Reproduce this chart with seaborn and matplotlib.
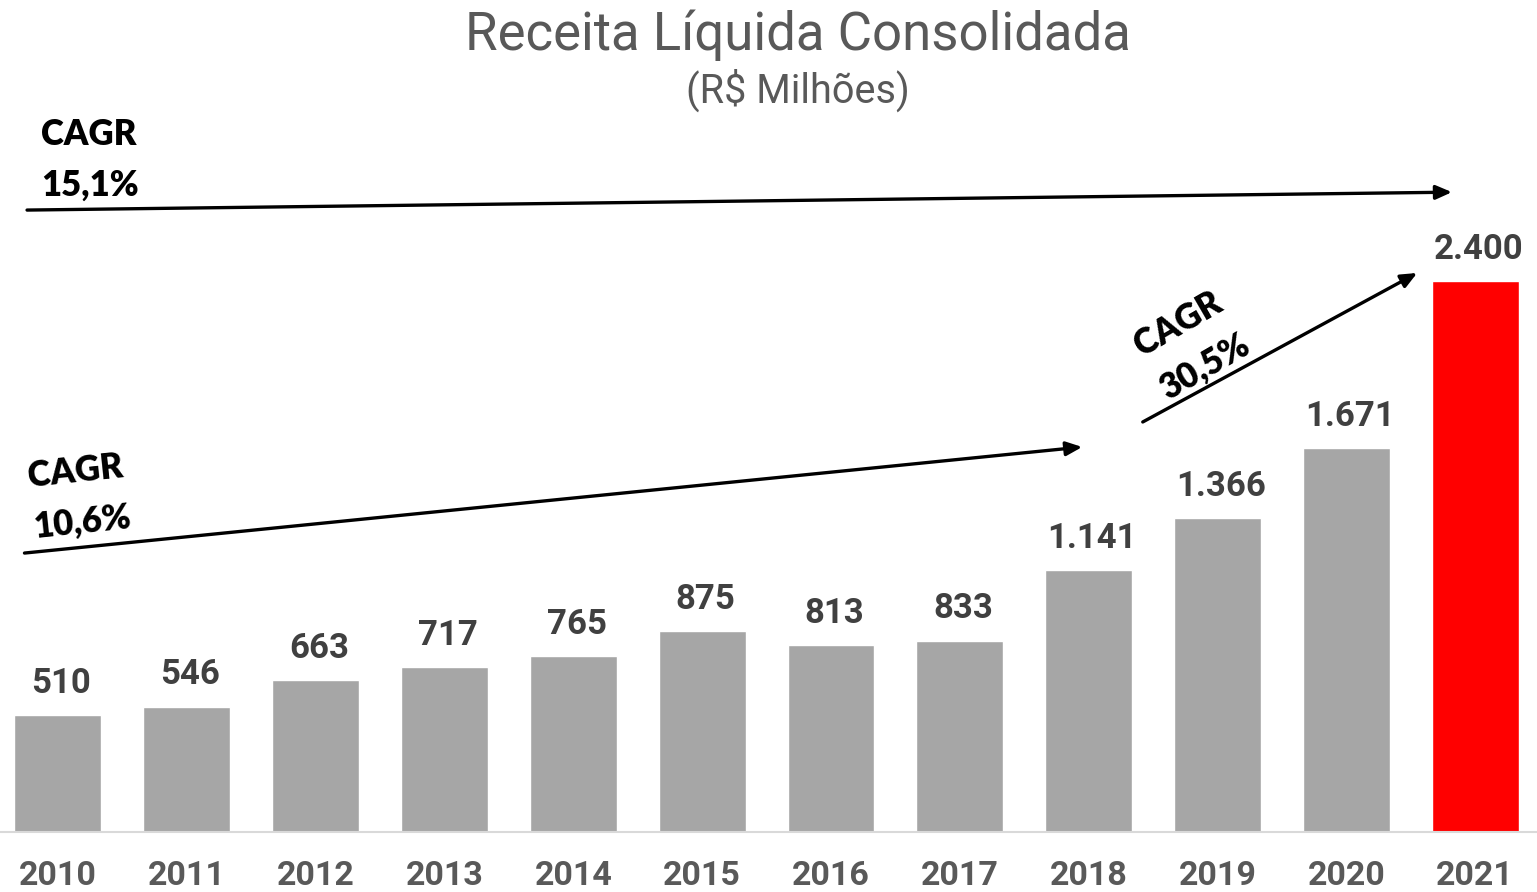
import matplotlib
matplotlib.use("Agg")
import matplotlib.pyplot as plt
import seaborn as sns
import pandas as pd

# Consolidated net revenue, R$ millions
years = ["2010", "2011", "2012", "2013", "2014", "2015",
         "2016", "2017", "2018", "2019", "2020", "2021"]
revenue = [510, 546, 663, 717, 765, 875, 813, 833, 1141, 1366, 1671, 2400]
value_labels = ["510", "546", "663", "717", "765", "875",
                "813", "833", "1.141", "1.366", "1.671", "2.400"]
highlight_year = "2021"

cagr_labels = ["CAGR\n15,1%", "CAGR\n10,6%", "CAGR\n30,5%"]

sns.set_theme(style="white")
plt.rcParams["font.family"] = ["Roboto", "DejaVu Sans"]

df = pd.DataFrame({"year": years, "revenue": revenue})
palette = {y: ("#FF0000" if y == highlight_year else "#A6A6A6") for y in years}

fig = plt.figure(figsize=(15.37, 8.92), dpi=100)
ax = fig.add_axes([0.0, 60 / 892, 1.0, 832 / 892])

sns.barplot(data=df, x="year", y="revenue", hue="year", palette=palette,
            width=0.675, legend=False, ax=ax, saturation=1)

ax.set_xlim(-0.45, 11.48)
ax.set_ylim(0, 3624)
ax.set_xlabel("")
ax.set_ylabel("")
ax.set_yticks([])
for side in ("left", "right", "top"):
    ax.spines[side].set_visible(False)
ax.spines["bottom"].set_color("#D9D9D9")
ax.spines["bottom"].set_linewidth(1.5)
ax.tick_params(axis="x", length=0, pad=20, labelsize=24.5, labelcolor="#595959")
for lbl in ax.get_xticklabels():
    lbl.set_fontweight("bold")

# Value labels above bars
for i, (v, txt) in enumerate(zip(revenue, value_labels)):
    ax.annotate(txt, (i, v), xytext=(2.5, 11), textcoords="offset points",
                ha="center", va="bottom", fontsize=25, fontweight="bold",
                color="#404040")

# Titles
fig.text(0.519, 0.960, "Receita Líquida Consolidada", ha="center", va="center",
         fontsize=38, color="#595959")
fig.text(0.519, 0.899, "(R$ Milhões)", ha="center", va="center",
         fontsize=28.5, color="#595959")

# Growth arrows
arrow_kw = dict(arrowstyle="-|>,head_length=0.8,head_width=0.35",
                color="black", lw=2.4, shrinkA=0, shrinkB=0)
ax.annotate("", xy=(10.82, 2787), xytext=(-0.24, 2709), arrowprops=arrow_kw)
ax.annotate("", xy=(7.95, 1677), xytext=(-0.26, 1215), arrowprops=arrow_kw)
ax.annotate("", xy=(10.55, 2435), xytext=(8.42, 1786), arrowprops=arrow_kw)

cagr_font = dict(family=["Lato", "DejaVu Sans"], fontweight="heavy",
                 fontsize=25, color="black", linespacing=1.65)
fig.text(41 / 1537, 1 - 160 / 892, cagr_labels[0], ha="left", va="center",
         **cagr_font)
fig.text(31 / 1537, 1 - 502 / 892, cagr_labels[1], ha="left", va="center",
         rotation=6, rotation_mode="anchor", **cagr_font)
fig.text(1192 / 1537, 1 - 345 / 892, cagr_labels[2], ha="center", va="center",
         rotation=30, rotation_mode="anchor", multialignment="left", **cagr_font)

fig.savefig("out.png", dpi=100, facecolor="white")
